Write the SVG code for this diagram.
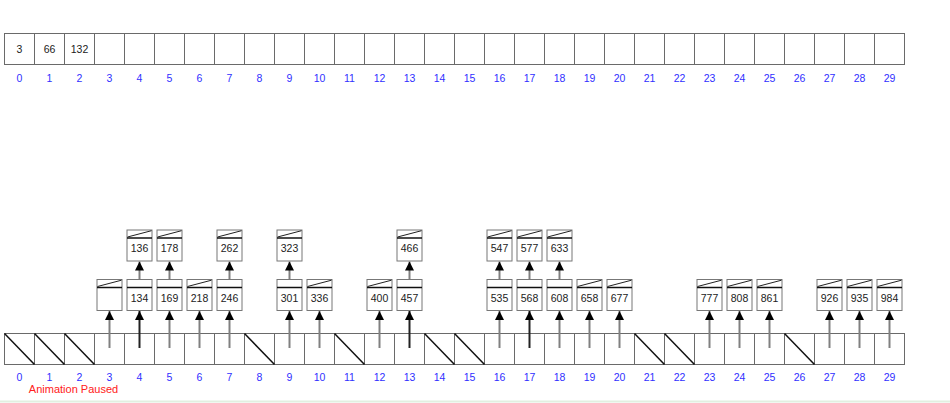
<svg xmlns="http://www.w3.org/2000/svg" xmlns:xlink="http://www.w3.org/1999/xlink" width="950" height="403" viewBox="0 0 950 403">
<style>
text{font-family:"Liberation Sans",Arial,sans-serif;font-size:10.5px;text-anchor:middle}
.val{fill:#222}
.idx{fill:#3030ff}
.cell{fill:#fff;stroke:#6a6a6a;stroke-width:1}
.nul{stroke:#111;stroke-width:1.5}
.nb{fill:#fff;stroke:#777;stroke-width:1}
.sep{stroke:#111;stroke-width:1.5}
.nd{stroke:#222;stroke-width:1}
.ar{stroke:#808080;stroke-width:2;fill:none}
.ard{stroke:#222;stroke-width:2;fill:none}
.paused{fill:#ff2020;font-size:11px}
</style>
<defs>
<marker id="ah" markerUnits="userSpaceOnUse" markerWidth="10" markerHeight="10" refX="9" refY="4.5" orient="auto"><path d="M0,0 L9,4.5 L0,9 z" fill="#000"/></marker>
<g id="box"><rect class="nb" x="-12.5" y="0.5" width="25" height="31"/><line class="sep" x1="-12.5" y1="8.5" x2="12.5" y2="8.5"/></g>
<line id="nd" class="nd" x1="-12" y1="7.5" x2="12" y2="1.2"/>
</defs>
<rect width="950" height="403" fill="#fff"/>
<line x1="0" y1="401.5" x2="950" y2="401.5" stroke="#e2efe0" stroke-width="2"/>

<g id="topArray">
<rect class="cell" x="4.5" y="33.5" width="30" height="31"/><rect class="cell" x="34.5" y="33.5" width="30" height="31"/><rect class="cell" x="64.5" y="33.5" width="30" height="31"/><rect class="cell" x="94.5" y="33.5" width="30" height="31"/><rect class="cell" x="124.5" y="33.5" width="30" height="31"/><rect class="cell" x="154.5" y="33.5" width="30" height="31"/><rect class="cell" x="184.5" y="33.5" width="30" height="31"/><rect class="cell" x="214.5" y="33.5" width="30" height="31"/><rect class="cell" x="244.5" y="33.5" width="30" height="31"/><rect class="cell" x="274.5" y="33.5" width="30" height="31"/><rect class="cell" x="304.5" y="33.5" width="30" height="31"/><rect class="cell" x="334.5" y="33.5" width="30" height="31"/><rect class="cell" x="364.5" y="33.5" width="30" height="31"/><rect class="cell" x="394.5" y="33.5" width="30" height="31"/><rect class="cell" x="424.5" y="33.5" width="30" height="31"/><rect class="cell" x="454.5" y="33.5" width="30" height="31"/><rect class="cell" x="484.5" y="33.5" width="30" height="31"/><rect class="cell" x="514.5" y="33.5" width="30" height="31"/><rect class="cell" x="544.5" y="33.5" width="30" height="31"/><rect class="cell" x="574.5" y="33.5" width="30" height="31"/><rect class="cell" x="604.5" y="33.5" width="30" height="31"/><rect class="cell" x="634.5" y="33.5" width="30" height="31"/><rect class="cell" x="664.5" y="33.5" width="30" height="31"/><rect class="cell" x="694.5" y="33.5" width="30" height="31"/><rect class="cell" x="724.5" y="33.5" width="30" height="31"/><rect class="cell" x="754.5" y="33.5" width="30" height="31"/><rect class="cell" x="784.5" y="33.5" width="30" height="31"/><rect class="cell" x="814.5" y="33.5" width="30" height="31"/><rect class="cell" x="844.5" y="33.5" width="30" height="31"/><rect class="cell" x="874.5" y="33.5" width="30" height="31"/>
<text class="val" x="19.5" y="52.5">3</text><text class="val" x="49.5" y="52.5">66</text><text class="val" x="79.5" y="52.5">132</text>
<text class="idx" x="19.5" y="81.5">0</text><text class="idx" x="49.5" y="81.5">1</text><text class="idx" x="79.5" y="81.5">2</text><text class="idx" x="109.5" y="81.5">3</text><text class="idx" x="139.5" y="81.5">4</text><text class="idx" x="169.5" y="81.5">5</text><text class="idx" x="199.5" y="81.5">6</text><text class="idx" x="229.5" y="81.5">7</text><text class="idx" x="259.5" y="81.5">8</text><text class="idx" x="289.5" y="81.5">9</text><text class="idx" x="319.5" y="81.5">10</text><text class="idx" x="349.5" y="81.5">11</text><text class="idx" x="379.5" y="81.5">12</text><text class="idx" x="409.5" y="81.5">13</text><text class="idx" x="439.5" y="81.5">14</text><text class="idx" x="469.5" y="81.5">15</text><text class="idx" x="499.5" y="81.5">16</text><text class="idx" x="529.5" y="81.5">17</text><text class="idx" x="559.5" y="81.5">18</text><text class="idx" x="589.5" y="81.5">19</text><text class="idx" x="619.5" y="81.5">20</text><text class="idx" x="649.5" y="81.5">21</text><text class="idx" x="679.5" y="81.5">22</text><text class="idx" x="709.5" y="81.5">23</text><text class="idx" x="739.5" y="81.5">24</text><text class="idx" x="769.5" y="81.5">25</text><text class="idx" x="799.5" y="81.5">26</text><text class="idx" x="829.5" y="81.5">27</text><text class="idx" x="859.5" y="81.5">28</text><text class="idx" x="889.5" y="81.5">29</text>
</g>

<g id="bottomArray">
<rect class="cell" x="4.5" y="333.5" width="30" height="31"/><rect class="cell" x="34.5" y="333.5" width="30" height="31"/><rect class="cell" x="64.5" y="333.5" width="30" height="31"/><rect class="cell" x="94.5" y="333.5" width="30" height="31"/><rect class="cell" x="124.5" y="333.5" width="30" height="31"/><rect class="cell" x="154.5" y="333.5" width="30" height="31"/><rect class="cell" x="184.5" y="333.5" width="30" height="31"/><rect class="cell" x="214.5" y="333.5" width="30" height="31"/><rect class="cell" x="244.5" y="333.5" width="30" height="31"/><rect class="cell" x="274.5" y="333.5" width="30" height="31"/><rect class="cell" x="304.5" y="333.5" width="30" height="31"/><rect class="cell" x="334.5" y="333.5" width="30" height="31"/><rect class="cell" x="364.5" y="333.5" width="30" height="31"/><rect class="cell" x="394.5" y="333.5" width="30" height="31"/><rect class="cell" x="424.5" y="333.5" width="30" height="31"/><rect class="cell" x="454.5" y="333.5" width="30" height="31"/><rect class="cell" x="484.5" y="333.5" width="30" height="31"/><rect class="cell" x="514.5" y="333.5" width="30" height="31"/><rect class="cell" x="544.5" y="333.5" width="30" height="31"/><rect class="cell" x="574.5" y="333.5" width="30" height="31"/><rect class="cell" x="604.5" y="333.5" width="30" height="31"/><rect class="cell" x="634.5" y="333.5" width="30" height="31"/><rect class="cell" x="664.5" y="333.5" width="30" height="31"/><rect class="cell" x="694.5" y="333.5" width="30" height="31"/><rect class="cell" x="724.5" y="333.5" width="30" height="31"/><rect class="cell" x="754.5" y="333.5" width="30" height="31"/><rect class="cell" x="784.5" y="333.5" width="30" height="31"/><rect class="cell" x="814.5" y="333.5" width="30" height="31"/><rect class="cell" x="844.5" y="333.5" width="30" height="31"/><rect class="cell" x="874.5" y="333.5" width="30" height="31"/>
<line class="nul" x1="4.5" y1="333.5" x2="34.5" y2="364.5"/><line class="nul" x1="34.5" y1="333.5" x2="64.5" y2="364.5"/><line class="nul" x1="64.5" y1="333.5" x2="94.5" y2="364.5"/><line class="nul" x1="244.5" y1="333.5" x2="274.5" y2="364.5"/><line class="nul" x1="334.5" y1="333.5" x2="364.5" y2="364.5"/><line class="nul" x1="424.5" y1="333.5" x2="454.5" y2="364.5"/><line class="nul" x1="454.5" y1="333.5" x2="484.5" y2="364.5"/><line class="nul" x1="634.5" y1="333.5" x2="664.5" y2="364.5"/><line class="nul" x1="664.5" y1="333.5" x2="694.5" y2="364.5"/><line class="nul" x1="784.5" y1="333.5" x2="814.5" y2="364.5"/>
<text class="idx" x="19.5" y="381">0</text><text class="idx" x="49.5" y="381">1</text><text class="idx" x="79.5" y="381">2</text><text class="idx" x="109.5" y="381">3</text><text class="idx" x="139.5" y="381">4</text><text class="idx" x="169.5" y="381">5</text><text class="idx" x="199.5" y="381">6</text><text class="idx" x="229.5" y="381">7</text><text class="idx" x="259.5" y="381">8</text><text class="idx" x="289.5" y="381">9</text><text class="idx" x="319.5" y="381">10</text><text class="idx" x="349.5" y="381">11</text><text class="idx" x="379.5" y="381">12</text><text class="idx" x="409.5" y="381">13</text><text class="idx" x="439.5" y="381">14</text><text class="idx" x="469.5" y="381">15</text><text class="idx" x="499.5" y="381">16</text><text class="idx" x="529.5" y="381">17</text><text class="idx" x="559.5" y="381">18</text><text class="idx" x="589.5" y="381">19</text><text class="idx" x="619.5" y="381">20</text><text class="idx" x="649.5" y="381">21</text><text class="idx" x="679.5" y="381">22</text><text class="idx" x="709.5" y="381">23</text><text class="idx" x="739.5" y="381">24</text><text class="idx" x="769.5" y="381">25</text><text class="idx" x="799.5" y="381">26</text><text class="idx" x="829.5" y="381">27</text><text class="idx" x="859.5" y="381">28</text><text class="idx" x="889.5" y="381">29</text>
</g>

<g id="connectors">
<line class="ar" x1="109.5" y1="348" x2="109.5" y2="311" marker-end="url(#ah)"/>
<line class="ard" x1="139.5" y1="348" x2="139.5" y2="311" marker-end="url(#ah)"/>
<line class="ar" x1="169.5" y1="348" x2="169.5" y2="311" marker-end="url(#ah)"/>
<line class="ar" x1="199.5" y1="348" x2="199.5" y2="311" marker-end="url(#ah)"/>
<line class="ar" x1="229.5" y1="348" x2="229.5" y2="311" marker-end="url(#ah)"/>
<line class="ar" x1="289.5" y1="348" x2="289.5" y2="311" marker-end="url(#ah)"/>
<line class="ar" x1="319.5" y1="348" x2="319.5" y2="311" marker-end="url(#ah)"/>
<line class="ar" x1="379.5" y1="348" x2="379.5" y2="311" marker-end="url(#ah)"/>
<line class="ard" x1="409.5" y1="348" x2="409.5" y2="311" marker-end="url(#ah)"/>
<line class="ar" x1="499.5" y1="348" x2="499.5" y2="311" marker-end="url(#ah)"/>
<line class="ard" x1="529.5" y1="348" x2="529.5" y2="311" marker-end="url(#ah)"/>
<line class="ar" x1="559.5" y1="348" x2="559.5" y2="311" marker-end="url(#ah)"/>
<line class="ar" x1="589.5" y1="348" x2="589.5" y2="311" marker-end="url(#ah)"/>
<line class="ar" x1="619.5" y1="348" x2="619.5" y2="311" marker-end="url(#ah)"/>
<line class="ar" x1="709.5" y1="348" x2="709.5" y2="311" marker-end="url(#ah)"/>
<line class="ar" x1="739.5" y1="348" x2="739.5" y2="311" marker-end="url(#ah)"/>
<line class="ar" x1="769.5" y1="348" x2="769.5" y2="311" marker-end="url(#ah)"/>
<line class="ar" x1="829.5" y1="348" x2="829.5" y2="311" marker-end="url(#ah)"/>
<line class="ar" x1="859.5" y1="348" x2="859.5" y2="311" marker-end="url(#ah)"/>
<line class="ar" x1="889.5" y1="348" x2="889.5" y2="311" marker-end="url(#ah)"/>
<line class="ar" x1="139.5" y1="283" x2="139.5" y2="261.5" marker-end="url(#ah)"/>
<line class="ar" x1="169.5" y1="283" x2="169.5" y2="261.5" marker-end="url(#ah)"/>
<line class="ar" x1="229.5" y1="283" x2="229.5" y2="261.5" marker-end="url(#ah)"/>
<line class="ar" x1="289.5" y1="283" x2="289.5" y2="261.5" marker-end="url(#ah)"/>
<line class="ar" x1="409.5" y1="283" x2="409.5" y2="261.5" marker-end="url(#ah)"/>
<line class="ar" x1="499.5" y1="283" x2="499.5" y2="261.5" marker-end="url(#ah)"/>
<line class="ar" x1="529.5" y1="283" x2="529.5" y2="261.5" marker-end="url(#ah)"/>
<line class="ar" x1="559.5" y1="283" x2="559.5" y2="261.5" marker-end="url(#ah)"/>
</g>

<g id="n3" transform="translate(109.5,279)"><use href="#box"/><use href="#nd"/></g>
<g id="n4a" transform="translate(139.5,279)"><use href="#box"/><text class="val" y="22.5">134</text></g>
<g id="n5a" transform="translate(169.5,279)"><use href="#box"/><text class="val" y="22.5">169</text></g>
<g id="n6a" transform="translate(199.5,279)"><use href="#box"/><use href="#nd"/><text class="val" y="22.5">218</text></g>
<g id="n7a" transform="translate(229.5,279)"><use href="#box"/><text class="val" y="22.5">246</text></g>
<g id="n9a" transform="translate(289.5,279)"><use href="#box"/><text class="val" y="22.5">301</text></g>
<g id="n10a" transform="translate(319.5,279)"><use href="#box"/><use href="#nd"/><text class="val" y="22.5">336</text></g>
<g id="n12a" transform="translate(379.5,279)"><use href="#box"/><use href="#nd"/><text class="val" y="22.5">400</text></g>
<g id="n13a" transform="translate(409.5,279)"><use href="#box"/><text class="val" y="22.5">457</text></g>
<g id="n16a" transform="translate(499.5,279)"><use href="#box"/><text class="val" y="22.5">535</text></g>
<g id="n17a" transform="translate(529.5,279)"><use href="#box"/><text class="val" y="22.5">568</text></g>
<g id="n18a" transform="translate(559.5,279)"><use href="#box"/><text class="val" y="22.5">608</text></g>
<g id="n19a" transform="translate(589.5,279)"><use href="#box"/><use href="#nd"/><text class="val" y="22.5">658</text></g>
<g id="n20a" transform="translate(619.5,279)"><use href="#box"/><use href="#nd"/><text class="val" y="22.5">677</text></g>
<g id="n23a" transform="translate(709.5,279)"><use href="#box"/><use href="#nd"/><text class="val" y="22.5">777</text></g>
<g id="n24a" transform="translate(739.5,279)"><use href="#box"/><use href="#nd"/><text class="val" y="22.5">808</text></g>
<g id="n25a" transform="translate(769.5,279)"><use href="#box"/><use href="#nd"/><text class="val" y="22.5">861</text></g>
<g id="n27a" transform="translate(829.5,279)"><use href="#box"/><use href="#nd"/><text class="val" y="22.5">926</text></g>
<g id="n28a" transform="translate(859.5,279)"><use href="#box"/><use href="#nd"/><text class="val" y="22.5">935</text></g>
<g id="n29a" transform="translate(889.5,279)"><use href="#box"/><use href="#nd"/><text class="val" y="22.5">984</text></g>

<g id="n4b" transform="translate(139.5,229.5)"><use href="#box"/><use href="#nd"/><text class="val" y="22.5">136</text></g>
<g id="n5b" transform="translate(169.5,229.5)"><use href="#box"/><use href="#nd"/><text class="val" y="22.5">178</text></g>
<g id="n7b" transform="translate(229.5,229.5)"><use href="#box"/><use href="#nd"/><text class="val" y="22.5">262</text></g>
<g id="n9b" transform="translate(289.5,229.5)"><use href="#box"/><use href="#nd"/><text class="val" y="22.5">323</text></g>
<g id="n13b" transform="translate(409.5,229.5)"><use href="#box"/><use href="#nd"/><text class="val" y="22.5">466</text></g>
<g id="n16b" transform="translate(499.5,229.5)"><use href="#box"/><use href="#nd"/><text class="val" y="22.5">547</text></g>
<g id="n17b" transform="translate(529.5,229.5)"><use href="#box"/><use href="#nd"/><text class="val" y="22.5">577</text></g>
<g id="n18b" transform="translate(559.5,229.5)"><use href="#box"/><use href="#nd"/><text class="val" y="22.5">633</text></g>

<text class="paused" x="73.5" y="392.5">Animation Paused</text>
</svg>
